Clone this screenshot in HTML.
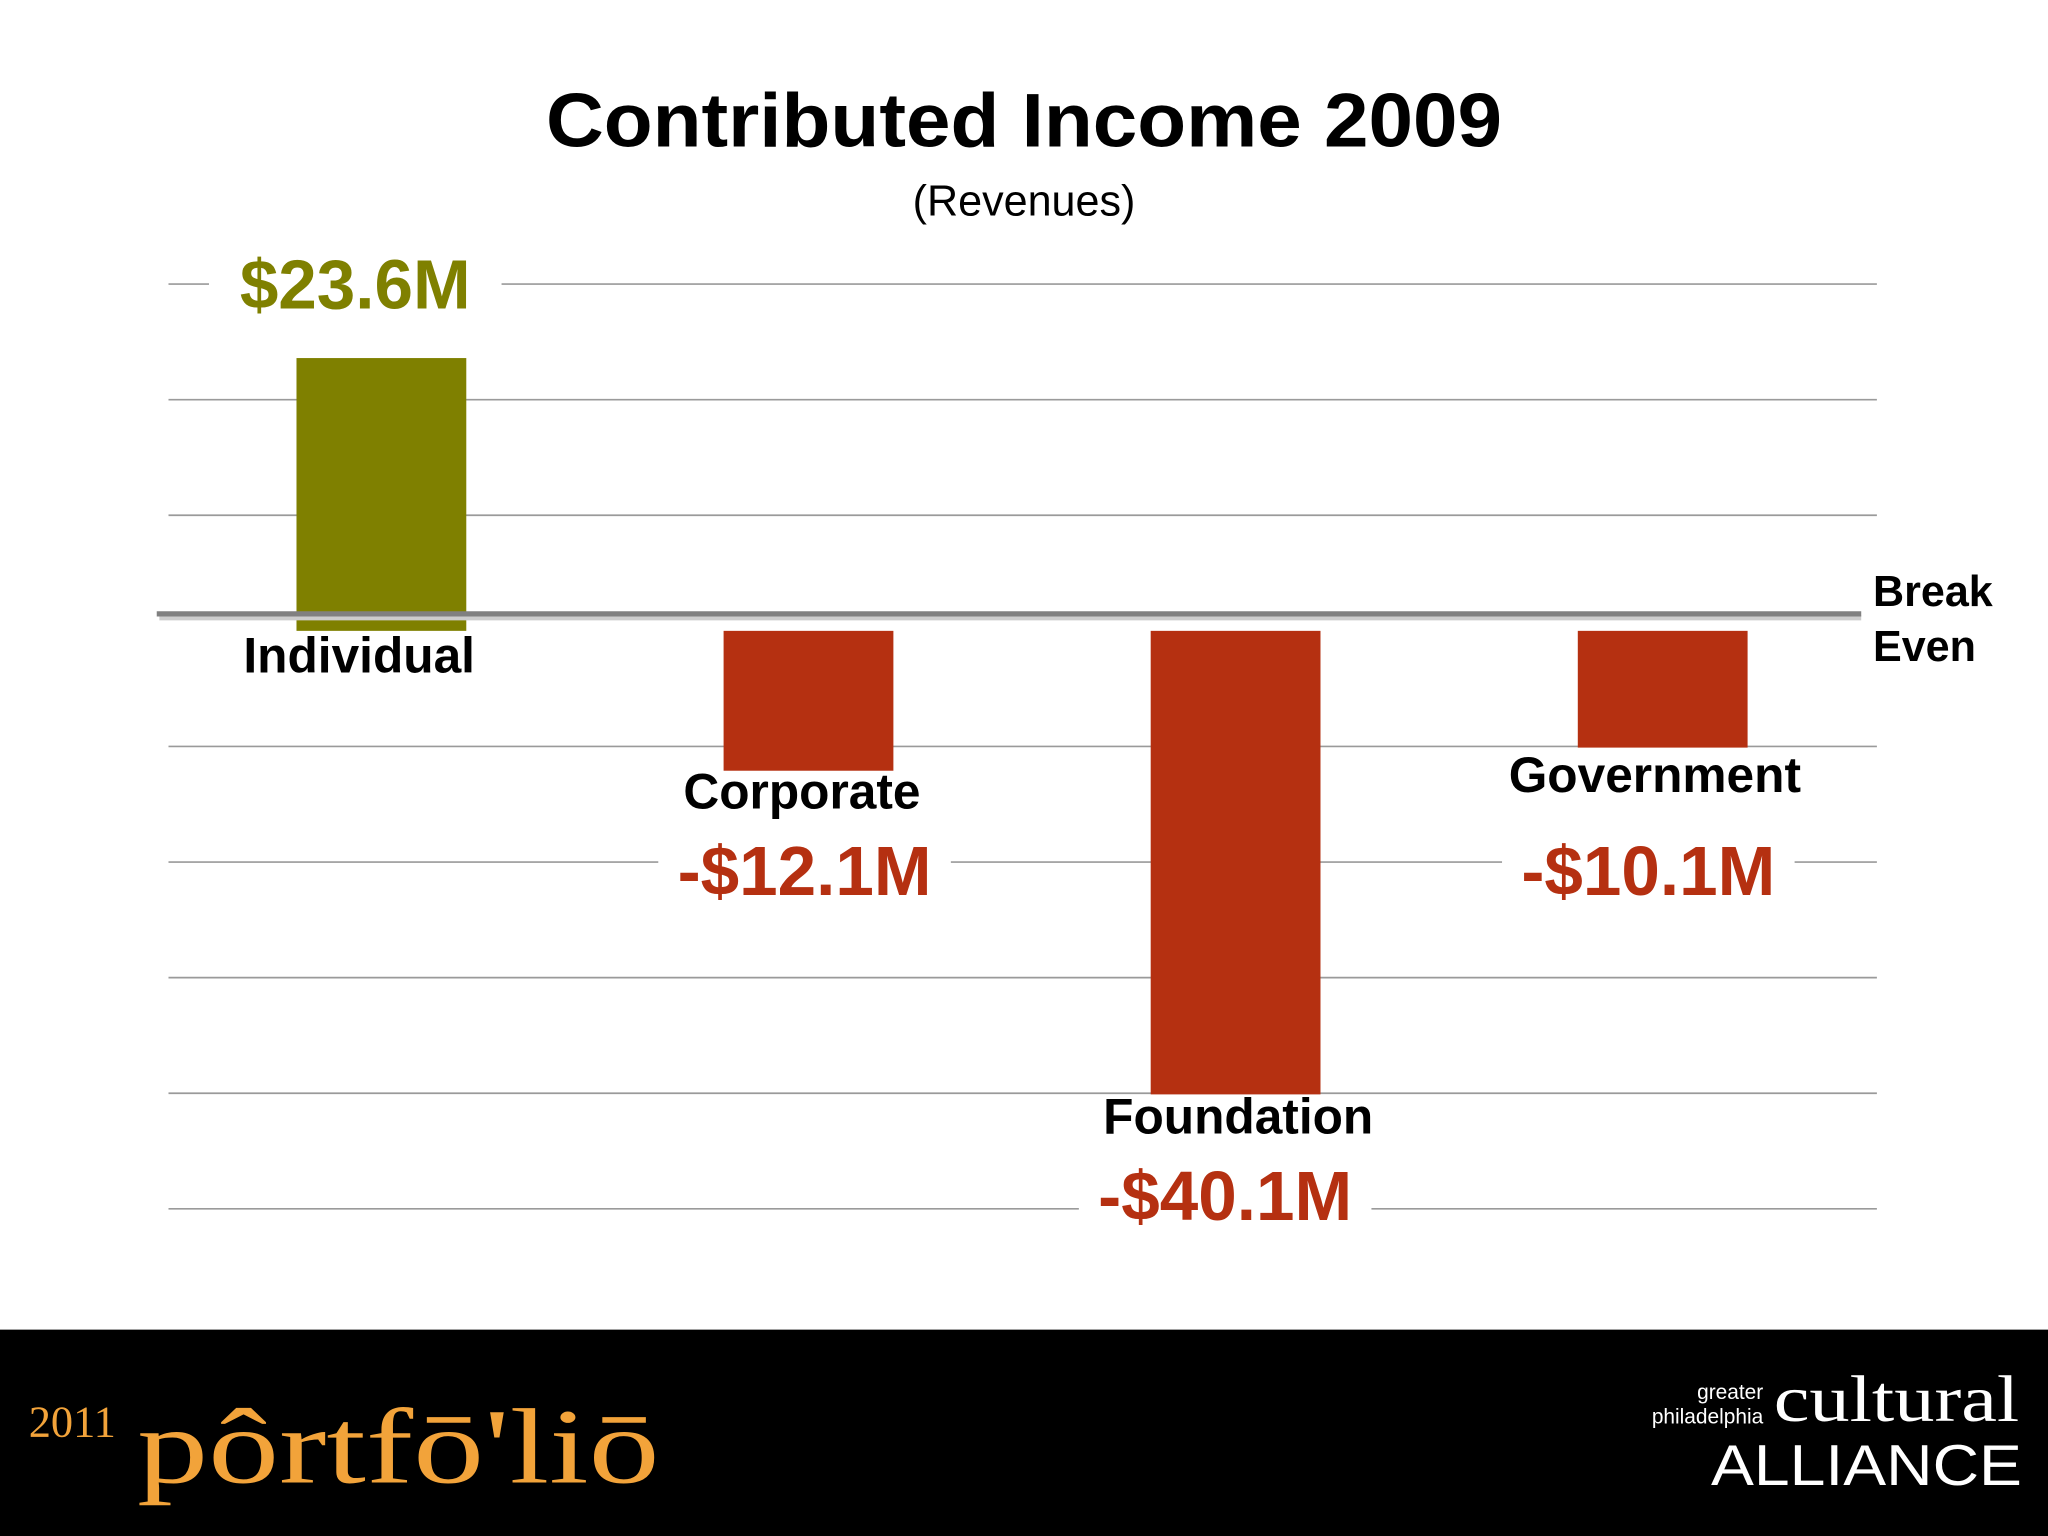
<!DOCTYPE html>
<html><head><meta charset="utf-8"><style>
html,body{margin:0;padding:0;background:#fff;}
svg{display:block;font-family:"Liberation Sans",sans-serif;}
</style></head><body>
<svg id="chart" width="2048" height="1536" viewBox="0 0 1568 1176" xmlns="http://www.w3.org/2000/svg">
<rect x="0" y="0" width="1568" height="1176" fill="#fff"/>
<text x="784" y="112" text-anchor="middle" font-size="58" font-weight="bold" textLength="732" lengthAdjust="spacingAndGlyphs" fill="#000">Contributed Income 2009</text>
<text x="784" y="165" text-anchor="middle" font-size="33" fill="#000">(Revenues)</text>
<g id="grid"></g>
<g id="bars"></g>
<g id="labels"></g>
<text font-size="33" font-weight="bold" fill="#000"><tspan x="1434" y="464">Break</tspan><tspan x="1434" y="506">Even</tspan></text>
<rect x="0" y="1018" width="1568" height="158" fill="#000"/>
<text x="22" y="1100" font-family="Liberation Serif,serif" font-size="34" fill="#f2a33a">2011</text>
<text x="105" y="1135" font-family="Liberation Serif,serif" font-size="82" fill="#f2a33a" textLength="400" lengthAdjust="spacingAndGlyphs">pôrtfō'liō</text>
<text font-size="16" fill="#fff" text-anchor="end"><tspan x="1350" y="1071">greater</tspan><tspan x="1350" y="1090">philadelphia</tspan></text>
<text x="1358" y="1088" font-family="Liberation Serif,serif" font-size="50" fill="#fff" textLength="188" lengthAdjust="spacingAndGlyphs">cultural</text>
<text x="1310" y="1137" font-size="44" fill="#fff" textLength="238" lengthAdjust="spacingAndGlyphs">ALLIANCE</text>
</svg>
<script>
const categories=["Individual","Corporate","Foundation","Government"];
const values=[23.6,-12.1,-40.1,-10.1];
const valueLabels=["$23.6M","-$12.1M","-$40.1M","-$10.1M"];
const gridTicks=[30,20,10,0,-10,-20,-30,-40,-50];
const NS="http://www.w3.org/2000/svg";
const zeroY=483,pxPerUnit=8.85;
function y(v){return zeroY-v*pxPerUnit;}
function xCenter(i){return 292+i*327;}
function mk(tag,attrs,parent,text){const e=document.createElementNS(NS,tag);for(const k in attrs)e.setAttribute(k,attrs[k]);if(text!==undefined)e.textContent=text;parent.appendChild(e);return e;}
const grid=document.getElementById('grid'),bars=document.getElementById('bars'),labels=document.getElementById('labels');
gridTicks.forEach(t=>{
 if(t===0)return;
 const l=mk('line',{x1:129,x2:1437,y1:y(t),y2:y(t),stroke:'#9a9a9a','stroke-width':1.3},grid);
 
 
});
values.forEach((v,i)=>{
 const cx=xCenter(i);
 const r=mk('rect',{x:cx-65,width:130,y:Math.min(y(v),zeroY),height:Math.abs(y(v)-zeroY),fill:v>=0?'#7f8000':'#b53011'},bars);
 
 
 const col=v>=0?'#7f8000':'#b53011';
 let catY,valY;
 if(v>=0){catY=zeroY+32;valY=y(v)-38;}
 else{catY=y(v)+(i===2?30:i===3?34:29);valY=catY+(i===3?79:66);}
 const labelX=cx+(i===0?-20:i===2?-8:i===3?-11:-3);
 const bg=mk('rect',{x:labelX-112,y:valY-44,width:224,height:54,fill:'#fff'},labels);
 
 
 const vt=mk('text',{x:labelX,y:valY,'text-anchor':'middle','font-size':53,'font-weight':'bold',fill:col},labels,valueLabels[i]);
 
 
 const ct=mk('text',{x:cx-(i===0?17:i===3?6:i===2?-2:5),y:catY,'text-anchor':'middle','font-size':38,'font-weight':'bold',fill:'#000'},labels,categories[i]);
 
 
});
const sh=mk('line',{x1:122,x2:1425,y1:473,y2:473,stroke:'#ccc','stroke-width':4},labels);


const be=mk('line',{x1:120,x2:1425,y1:470,y2:470,stroke:'#808080','stroke-width':4},labels);


</script>
</body></html>
